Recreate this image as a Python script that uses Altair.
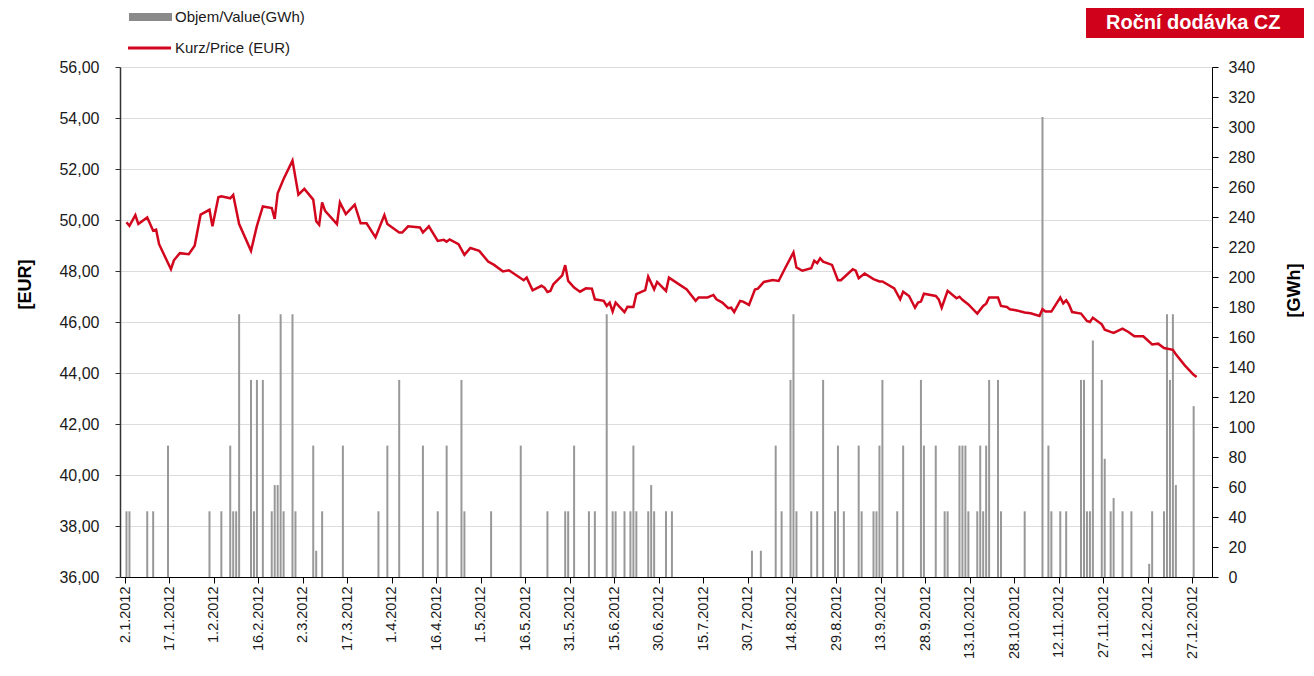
import altair as alt
import pandas as pd

# ---------------- data ----------------
bar_dates = [
    "2012-01-02", "2012-01-03", "2012-01-09", "2012-01-11", "2012-01-16", "2012-01-30",
    "2012-02-03", "2012-02-06", "2012-02-07", "2012-02-08", "2012-02-09", "2012-02-13",
    "2012-02-14", "2012-02-15", "2012-02-17", "2012-02-20", "2012-02-21", "2012-02-22",
    "2012-02-23", "2012-02-24", "2012-02-27", "2012-02-28", "2012-03-05", "2012-03-06",
    "2012-03-08", "2012-03-15", "2012-03-27", "2012-03-30", "2012-04-03", "2012-04-11",
    "2012-04-16", "2012-04-19", "2012-04-24", "2012-04-25", "2012-05-04", "2012-05-14",
    "2012-05-23", "2012-05-29", "2012-05-30", "2012-06-01", "2012-06-06", "2012-06-08",
    "2012-06-12", "2012-06-14", "2012-06-15", "2012-06-18", "2012-06-20", "2012-06-21",
    "2012-06-22", "2012-06-26", "2012-06-27", "2012-06-28", "2012-07-02", "2012-07-04",
    "2012-07-31", "2012-08-03", "2012-08-08", "2012-08-10", "2012-08-13", "2012-08-14",
    "2012-08-15", "2012-08-20", "2012-08-22", "2012-08-24", "2012-08-28", "2012-08-29",
    "2012-08-31", "2012-09-05", "2012-09-06", "2012-09-10", "2012-09-11", "2012-09-12",
    "2012-09-13", "2012-09-18", "2012-09-20", "2012-09-26", "2012-09-27", "2012-10-01",
    "2012-10-04", "2012-10-05", "2012-10-09", "2012-10-10", "2012-10-11", "2012-10-12",
    "2012-10-15", "2012-10-16", "2012-10-17", "2012-10-18", "2012-10-19", "2012-10-22",
    "2012-10-23", "2012-10-31", "2012-11-06", "2012-11-08", "2012-11-09", "2012-11-12",
    "2012-11-14", "2012-11-19", "2012-11-20", "2012-11-21", "2012-11-22", "2012-11-23",
    "2012-11-26", "2012-11-27", "2012-11-29", "2012-11-30", "2012-12-03", "2012-12-06",
    "2012-12-12", "2012-12-13", "2012-12-17", "2012-12-18", "2012-12-19", "2012-12-20",
    "2012-12-21", "2012-12-27",
]
bar_gwh = [
    43.8, 43.8, 43.8, 43.8, 87.6, 43.8,
    43.8, 87.6, 43.8, 43.8, 175.2, 131.4,
    43.8, 131.4, 131.4, 43.8, 61.3, 61.3,
    175.2, 43.8, 175.2, 43.8, 87.6, 17.5,
    43.8, 87.6, 43.8, 87.6, 131.4, 87.6,
    43.8, 87.6, 131.4, 43.8, 43.8, 87.6,
    43.8, 43.8, 43.8, 87.6, 43.8, 43.8,
    175.2, 43.8, 43.8, 43.8, 43.8, 87.6,
    43.8, 43.8, 61.3, 43.8, 43.8, 43.8,
    17.5, 17.5, 87.6, 43.8, 131.4, 175.2,
    43.8, 43.8, 43.8, 131.4, 43.8, 87.6,
    43.8, 87.6, 43.8, 43.8, 43.8, 87.6,
    131.4, 43.8, 87.6, 131.4, 87.6, 87.6,
    43.8, 43.8, 87.6, 87.6, 87.6, 43.8,
    43.8, 87.6, 43.8, 87.6, 131.4, 131.4,
    43.8, 43.8, 306.6, 87.6, 43.8, 43.8,
    43.8, 131.4, 131.4, 43.8, 43.8, 157.7,
    131.4, 78.8, 43.8, 52.6, 43.8, 43.8,
    8.8, 43.8, 43.8, 175.2, 131.4, 175.2,
    61.3, 113.9,
]

price_dates = [
    "2012-01-02", "2012-01-03", "2012-01-05", "2012-01-06", "2012-01-09", "2012-01-11",
    "2012-01-12", "2012-01-13", "2012-01-17", "2012-01-18", "2012-01-20", "2012-01-23",
    "2012-01-25", "2012-01-27", "2012-01-30", "2012-01-31", "2012-02-02", "2012-02-03",
    "2012-02-06", "2012-02-07", "2012-02-09", "2012-02-13", "2012-02-15", "2012-02-17",
    "2012-02-20", "2012-02-21", "2012-02-22", "2012-02-24", "2012-02-27", "2012-02-29",
    "2012-03-02", "2012-03-05", "2012-03-06", "2012-03-07", "2012-03-08", "2012-03-09",
    "2012-03-13", "2012-03-14", "2012-03-16", "2012-03-19", "2012-03-21", "2012-03-23",
    "2012-03-26", "2012-03-29", "2012-03-30", "2012-04-03", "2012-04-04", "2012-04-06",
    "2012-04-10", "2012-04-11", "2012-04-13", "2012-04-16", "2012-04-18", "2012-04-19",
    "2012-04-20", "2012-04-23", "2012-04-25", "2012-04-27", "2012-04-30", "2012-05-03",
    "2012-05-05", "2012-05-08", "2012-05-10", "2012-05-15", "2012-05-16", "2012-05-18",
    "2012-05-21", "2012-05-22", "2012-05-23", "2012-05-24", "2012-05-25", "2012-05-28",
    "2012-05-29", "2012-05-30", "2012-06-01", "2012-06-03", "2012-06-05", "2012-06-07",
    "2012-06-08", "2012-06-11", "2012-06-12", "2012-06-13", "2012-06-14", "2012-06-15",
    "2012-06-18", "2012-06-19", "2012-06-21", "2012-06-22", "2012-06-25", "2012-06-26",
    "2012-06-28", "2012-06-29", "2012-07-02", "2012-07-03", "2012-07-09", "2012-07-12",
    "2012-07-13", "2012-07-16", "2012-07-18", "2012-07-19", "2012-07-21", "2012-07-23",
    "2012-07-24", "2012-07-25", "2012-07-27", "2012-07-28", "2012-07-30", "2012-08-01",
    "2012-08-02", "2012-08-04", "2012-08-07", "2012-08-09", "2012-08-11", "2012-08-14",
    "2012-08-15", "2012-08-17", "2012-08-20", "2012-08-21", "2012-08-22", "2012-08-23",
    "2012-08-24", "2012-08-27", "2012-08-29", "2012-08-30", "2012-09-03", "2012-09-04",
    "2012-09-05", "2012-09-07", "2012-09-10", "2012-09-12", "2012-09-13", "2012-09-17",
    "2012-09-19", "2012-09-20", "2012-09-22", "2012-09-24", "2012-09-25", "2012-09-26",
    "2012-09-27", "2012-10-01", "2012-10-02", "2012-10-03", "2012-10-05", "2012-10-08",
    "2012-10-09", "2012-10-10", "2012-10-12", "2012-10-15", "2012-10-17", "2012-10-18",
    "2012-10-19", "2012-10-22", "2012-10-23", "2012-10-25", "2012-10-26", "2012-10-28",
    "2012-10-31", "2012-11-02", "2012-11-05", "2012-11-06", "2012-11-07", "2012-11-09",
    "2012-11-12", "2012-11-13", "2012-11-14", "2012-11-15", "2012-11-16", "2012-11-19",
    "2012-11-21", "2012-11-22", "2012-11-23", "2012-11-26", "2012-11-27", "2012-11-29",
    "2012-11-30", "2012-12-03", "2012-12-05", "2012-12-07", "2012-12-10", "2012-12-13",
    "2012-12-15", "2012-12-17", "2012-12-20", "2012-12-21", "2012-12-24", "2012-12-27",
    "2012-12-28",
]
price_eur = [
    49.91, 49.77, 50.19, 49.84, 50.10, 49.58,
    49.62, 49.05, 48.07, 48.42, 48.70, 48.66,
    48.99, 50.21, 50.40, 49.75, 50.89, 50.93,
    50.85, 50.98, 49.84, 48.79, 49.77, 50.53,
    50.47, 50.04, 51.05, 51.61, 52.33, 50.99,
    51.22, 50.80, 49.95, 49.81, 50.69, 50.36,
    49.84, 50.69, 50.23, 50.60, 49.87, 49.87,
    49.32, 50.19, 49.84, 49.51, 49.51, 49.75,
    49.71, 49.51, 49.75, 49.18, 49.22, 49.15,
    49.24, 49.05, 48.63, 48.90, 48.79, 48.37,
    48.24, 47.98, 48.03, 47.64, 47.74, 47.24,
    47.42, 47.35, 47.18, 47.22, 47.48, 47.83,
    48.23, 47.61, 47.35, 47.19, 47.32, 47.31,
    46.89, 46.83, 46.63, 46.76, 46.41, 46.76,
    46.39, 46.60, 46.59, 47.09, 47.25, 47.78,
    47.28, 47.57, 47.22, 47.74, 47.28, 46.83,
    46.96, 46.96, 47.06, 46.89, 46.76, 46.54,
    46.56, 46.39, 46.83, 46.80, 46.67, 47.27,
    47.31, 47.57, 47.65, 47.61, 48.07, 48.73,
    48.14, 48.01, 48.11, 48.40, 48.31, 48.50,
    48.37, 48.24, 47.64, 47.64, 48.07, 48.01,
    47.72, 47.90, 47.68, 47.59, 47.59, 47.32,
    46.89, 47.19, 47.02, 46.56, 46.76, 46.80,
    47.11, 47.02, 46.89, 46.56, 47.22, 46.93,
    46.99, 46.87, 46.69, 46.33, 46.63, 46.72,
    46.96, 46.96, 46.63, 46.59, 46.50, 46.46,
    46.37, 46.34, 46.24, 46.50, 46.41, 46.41,
    46.96, 46.73, 46.85, 46.67, 46.39, 46.33,
    46.04, 46.00, 46.17, 45.91, 45.70, 45.61,
    45.57, 45.74, 45.61, 45.44, 45.44, 45.12,
    45.15, 44.98, 44.91, 44.73, 44.30, 43.93,
    43.84,
]

x_tick_dates = pd.date_range("2012-01-02", "2012-12-27", freq="15D")
eur_ticks = list(range(36, 57, 2))
gwh_ticks = list(range(0, 341, 20))

legend_labels = ["Objem/Value(GWh)", "Kurz/Price (EUR)"]
title_text = "Roční dodávka CZ"

# ---------------- tables ----------------
bars = pd.DataFrame({"date": [d + "T12:00:00Z" for d in bar_dates], "gwh": bar_gwh})
prices = pd.DataFrame({"date": [d + "T12:00:00Z" for d in price_dates], "eur": price_eur})

def ms(ts):
    return int(pd.Timestamp(ts, tz="UTC").value // 10**6)

x_domain = [ms("2012-01-02"), ms("2013-01-01")]
x_values = [ms(t) for t in x_tick_dates]

FONT = "Liberation Sans"
TXT = "#1a1a1a"

x_enc = alt.X(
    "date:T",
    scale=alt.Scale(type="utc", domain=x_domain, nice=False),
    axis=alt.Axis(
        values=x_values,
        labelExpr="utcFormat(datum.value, '%-d.%-m.%Y')",
        labelAngle=270, labelAlign="right", labelBaseline="middle",
        labelFontSize=14.5, labelFont=FONT, labelColor=TXT,
        labelPadding=3, tickSize=6, tickColor="#000", domainColor="#000",
        grid=False, title=None, labelOverlap=False, labelFlush=False,
    ),
)

bar_layer = alt.Chart(bars).mark_bar(size=2, color="#989898").encode(
    x=x_enc,
    y=alt.Y(
        "gwh:Q",
        scale=alt.Scale(domain=[0, 340], nice=False, zero=True),
        axis=alt.Axis(
            orient="right", values=gwh_ticks, format="d",
            labelFontSize=16, labelFont=FONT, labelColor=TXT,
            labelPadding=10, tickSize=6, tickColor="#000", domainColor="#000",
            grid=False, labelOverlap=False, labelFlush=False,
            title="[GWh]", titleFont=FONT, titleFontSize=18, titleFontWeight="bold",
            titleColor="#000", titleAngle=270, titleX=82, titleY=223,
            titleAlign="center", titleBaseline="middle",
        ),
    ),
)

line_layer = alt.Chart(prices).mark_line(color="#d2071e", strokeWidth=2.5).encode(
    x=alt.X("date:T"),
    y=alt.Y(
        "eur:Q",
        scale=alt.Scale(domain=[36, 56], nice=False, zero=False),
        axis=alt.Axis(
            orient="left", values=eur_ticks,
            labelExpr="replace(format(datum.value, '.2f'), '.', ',')",
            labelFontSize=16, labelFont=FONT, labelColor=TXT,
            labelPadding=16, tickSize=5, tickColor="#333", domainColor="#333",
            domainWidth=1.5, grid=True, gridColor="#dcdcdc", gridWidth=1,
            labelOverlap=False, labelFlush=False,
            title="[EUR]", titleFont=FONT, titleFontSize=18, titleFontWeight="bold",
            titleColor="#000", titleAngle=270, titleX=-95, titleY=217,
            titleAlign="center", titleBaseline="middle",
        ),
    ),
)

one = pd.DataFrame({"k": [0]})

# legend (decoration)
leg_bar = alt.Chart(one).mark_rect(color="#8a8a8a").encode(
    x=alt.value(9), x2=alt.value(52), y=alt.value(-54), y2=alt.value(-46)
)
leg_line = alt.Chart(one).mark_rule(color="#d2071e", strokeWidth=3).encode(
    x=alt.value(8), x2=alt.value(51), y=alt.value(-19)
)
leg_t1 = alt.Chart(one).mark_text(
    text=legend_labels[0], align="left", baseline="middle", font=FONT, fontSize=15, color=TXT
).encode(x=alt.value(55), y=alt.value(-50))
leg_t2 = alt.Chart(one).mark_text(
    text=legend_labels[1], align="left", baseline="middle", font=FONT, fontSize=15, color=TXT
).encode(x=alt.value(55), y=alt.value(-19))

# red title box (decoration)
title_box = alt.Chart(one).mark_rect(color="#d0021b").encode(
    x=alt.value(966), x2=alt.value(1200), y=alt.value(-70), y2=alt.value(-29)
)
title_lbl = alt.Chart(one).mark_text(
    text=title_text, align="left", baseline="alphabetic", font=FONT,
    fontSize=20, fontWeight="bold", color="#ffffff"
).encode(x=alt.value(986), y=alt.value(-38))

chart = alt.layer(
    bar_layer, line_layer, leg_bar, leg_line, leg_t1, leg_t2, title_box, title_lbl
).resolve_scale(y="independent").properties(
    width=1092, height=510,
    autosize=alt.AutoSizeParams(type="none"),
    padding={"left": 112, "top": 59, "right": 92, "bottom": 85},
).configure_view(strokeWidth=0).configure(background="#ffffff")

chart.save("out.html", embed_options={"renderer": "svg", "actions": False})
